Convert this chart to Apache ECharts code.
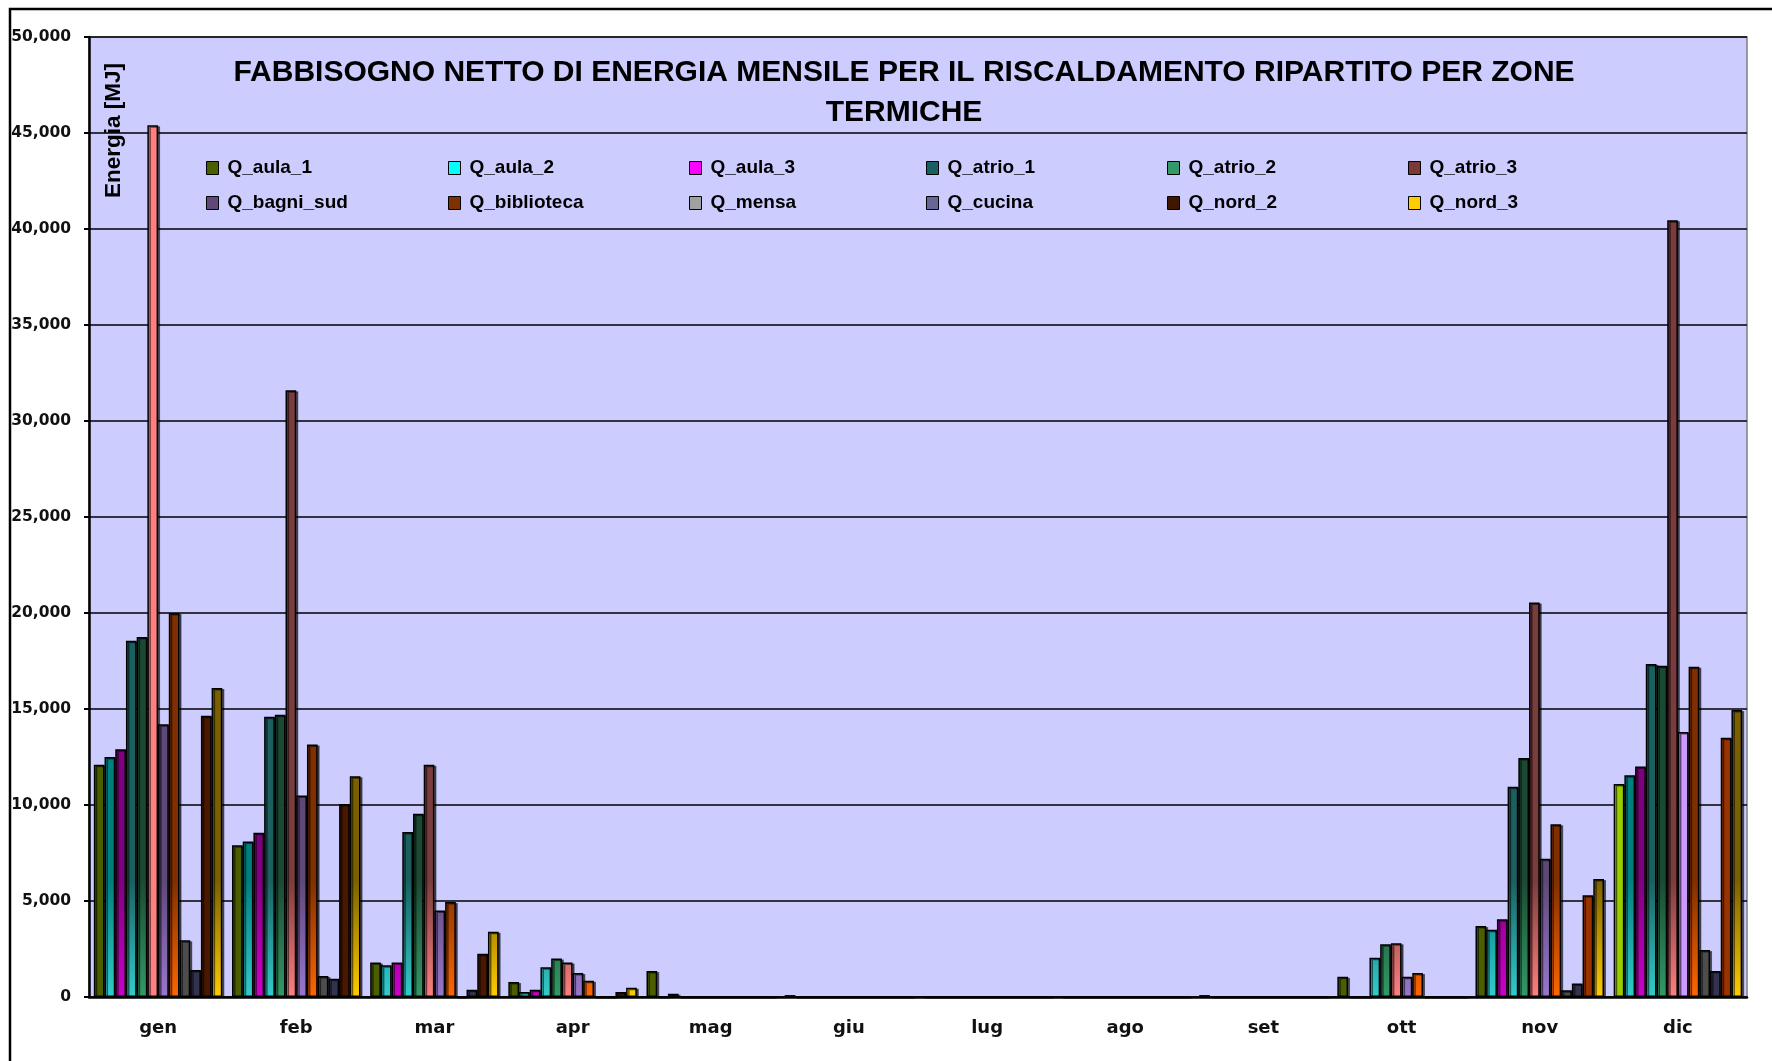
<!DOCTYPE html>
<html>
<head>
<meta charset="utf-8">
<script src="https://cdn.jsdelivr.net/npm/echarts@6.0.0/dist/echarts.min.js"></script>
<style>
html, body { margin: 0; padding: 0; background: #ffffff; }
#chart { width: 1772px; height: 1061px; }
</style>
</head>
<body>
<div id="chart"></div>
<script>
// mesi
const categories = ['gen', 'feb', 'mar', 'apr', 'mag', 'giu', 'lug', 'ago', 'set', 'ott', 'nov', 'dic']
const yTicks = [0, 5000, 10000, 15000, 20000, 25000, 30000, 35000, 40000, 45000, 50000]

const seriesNames = ['Q_aula_1', 'Q_aula_2', 'Q_aula_3', 'Q_atrio_1', 'Q_atrio_2', 'Q_atrio_3',
    'Q_bagni_sud', 'Q_biblioteca', 'Q_mensa', 'Q_cucina', 'Q_nord_2', 'Q_nord_3']

// valori [MJ]
const qAula1 = [12100, 7900, 1800, 780, 1350, 100, 0, 0, 100, 1050, 3700, 11100]
const qAula2 = [12500, 8100, 1650, 260, 0, 0, 0, 0, 0, 0, 3500, 11550]
const qAula3 = [12900, 8550, 1800, 380, 170, 0, 0, 0, 0, 0, 4050, 12000]
const qAtrio1 = [18550, 14600, 8600, 1550, 0, 0, 0, 0, 0, 2050, 10950, 17350]
const qAtrio2 = [18750, 14700, 9550, 2000, 0, 0, 0, 0, 0, 2750, 12450, 17250]
const qAtrio3 = [45400, 31600, 12100, 1800, 0, 0, 0, 0, 0, 2800, 20550, 40450]
const qBagniSud = [14200, 10500, 4500, 1250, 0, 0, 0, 0, 0, 1050, 7200, 13800]
const qBiblioteca = [20000, 13150, 4950, 850, 0, 0, 0, 0, 0, 1250, 9000, 17200]
const qMensa = [2950, 1100, 0, 0, 0, 0, 0, 0, 0, 0, 350, 2450]
const qCucina = [1400, 950, 380, 0, 0, 0, 0, 0, 0, 0, 700, 1350]
const qNord2 = [14650, 10050, 2250, 260, 0, 0, 0, 0, 0, 0, 5300, 13500]
const qNord3 = [16100, 11500, 3400, 480, 0, 0, 0, 0, 0, 0, 6150, 14950]

const seriesValues = [qAula1, qAula2, qAula3, qAtrio1, qAtrio2, qAtrio3,
    qBagniSud, qBiblioteca, qMensa, qCucina, qNord2, qNord3]

// colori (alto / fondo barra / legenda)
const topColors = ['#4B5F00', '#007F7F', '#7F007F', '#1B5F5F', '#1B4A33', '#7A3C3C',
    '#5E4878', '#7F2F00', '#4D4D4D', '#333350', '#4A1800', '#7A6000']
const bottomColors = ['#4B5F00', '#33CCCC', '#CC00CC', '#33CCCC', '#339966', '#FF8080',
    '#9977CC', '#FF6600', '#4D4D4D', '#333350', '#4A1800', '#FFCC00']
const legendColors = ['#4B5F00', '#00FFFF', '#FF00FF', '#1B6060', '#339966', '#7A3A3A',
    '#604878', '#7F3000', '#A0A0A0', '#666699', '#3F1700', '#FFCC00']
// barre colorate diversamente nel foglio originale: [serie, mese, colore]
const pointColors = [[5, 0, '#FF8080'], [0, 11, '#99CC00'], [6, 11, '#CC99FF'], [10, 10, '#993300'], [10, 11, '#993300']]

const PLOT = {left: 89, top: 37, right: 25, bottom: 64}
const FONT = 'Liberation Sans, Arial, sans-serif'

function createTitle(){
    return {
        text: 'FABBISOGNO NETTO DI ENERGIA MENSILE PER IL RISCALDAMENTO RIPARTITO PER ZONE\nTERMICHE',
        left: 899,
        top: 48,
        textAlign: 'center',
        textStyle: {
            fontFamily: FONT,
            fontSize: 30,
            fontWeight: 'bold',
            color: '#000000',
            lineHeight: 40
        }
    }
}

function createLegend(){
    const colX = [201, 443, 684, 921, 1162, 1403]
    return colX.map((x, i) => {
        return {
            orient: 'vertical',
            left: x,
            top: 153,
            itemWidth: 12,
            itemHeight: 13,
            itemGap: 15,
            selectedMode: false,
            icon: 'rect',
            data: [i, i + 6].map(k => ({
                name: seriesNames[k],
                itemStyle: {color: legendColors[k], borderColor: '#000', borderWidth: 1}
            })),
            textStyle: {
                fontFamily: FONT,
                fontSize: 19,
                fontWeight: 'bold',
                color: '#000000',
                lineHeight: 20,
                padding: [0, 0, 0, 4]
            }
        }
    })
}

function barColor(k){
    return new echarts.graphic.LinearGradient(0, 880, 0, 997, [
        {offset: 0, color: topColors[k]},
        {offset: 1, color: bottomColors[k]}
    ], true)
}

function createSeries(){
    return seriesValues.map((values, k) => {
        const data = values.map((v, m) => {
            const hit = pointColors.find(p => p[0] == k && p[1] == m)
            if(hit){
                return {value: v, itemStyle: {color: hit[2]}}
            }
            return v
        })
        return {
            name: seriesNames[k],
            type: 'bar',
            barGap: '0%',
            barCategoryGap: '7%',
            itemStyle: {
                color: barColor(k),
                borderColor: '#000000',
                borderWidth: 1.5,
                shadowColor: 'rgba(0,0,0,0.55)',
                shadowOffsetX: 2,
                shadowOffsetY: 1,
                shadowBlur: 0
            },
            emphasis: {disabled: true},
            data: data
        }
    })
}

function createOptions(){
    return {
        backgroundColor: '#FFFFFF',
        animation: false,
        title: createTitle(),
        legend: createLegend(),
        grid: {
            left: PLOT.left, top: PLOT.top, right: PLOT.right, bottom: PLOT.bottom,
            show: true,
            backgroundColor: '#CCCCFF',
            borderColor: '#808080',
            borderWidth: 1.5,
            containLabel: false
        },
        xAxis: {
            type: 'category',
            data: categories,
            axisLine: {lineStyle: {color: '#000000', width: 2.5}},
            axisTick: {length: 6, lineStyle: {color: '#000000', width: 2}},
            axisLabel: {
                margin: 22,
                fontFamily: 'DejaVu Sans, sans-serif',
                fontSize: 18,
                fontWeight: 'bold',
                color: '#111111'
            }
        },
        yAxis: {
            type: 'value',
            min: yTicks[0],
            max: yTicks[yTicks.length - 1],
            interval: yTicks[1] - yTicks[0],
            axisLine: {show: true, lineStyle: {color: '#000000', width: 2.5}},
            axisTick: {show: true, length: 5, lineStyle: {color: '#000000', width: 2}},
            splitLine: {lineStyle: {color: '#000000', width: 1.5}},
            axisLabel: {
                margin: 18,
                fontFamily: 'DejaVu Sans, sans-serif',
                fontSize: 15.5,
                fontWeight: 'bold',
                color: '#111111',
                formatter: v => v.toLocaleString('en-US')
            }
        },
        graphic: [{
            type: 'text',
            x: 114,
            y: 198,
            rotation: Math.PI / 2,
            z: 100,
            style: {
                text: 'Energia [MJ]',
                font: 'bold 22.5px ' + FONT,
                fill: '#000000',
                textAlign: 'left',
                textVerticalAlign: 'middle'
            }
        }, {
            type: 'rect',
            z: 100,
            shape: {x: 10, y: 9, width: 1800, height: 1100},
            style: {fill: 'none', stroke: '#000000', lineWidth: 2.5}
        }],
        series: createSeries()
    }
}

const chart = echarts.init(document.getElementById('chart'))
chart.setOption(createOptions())
</script>
</body>
</html>
